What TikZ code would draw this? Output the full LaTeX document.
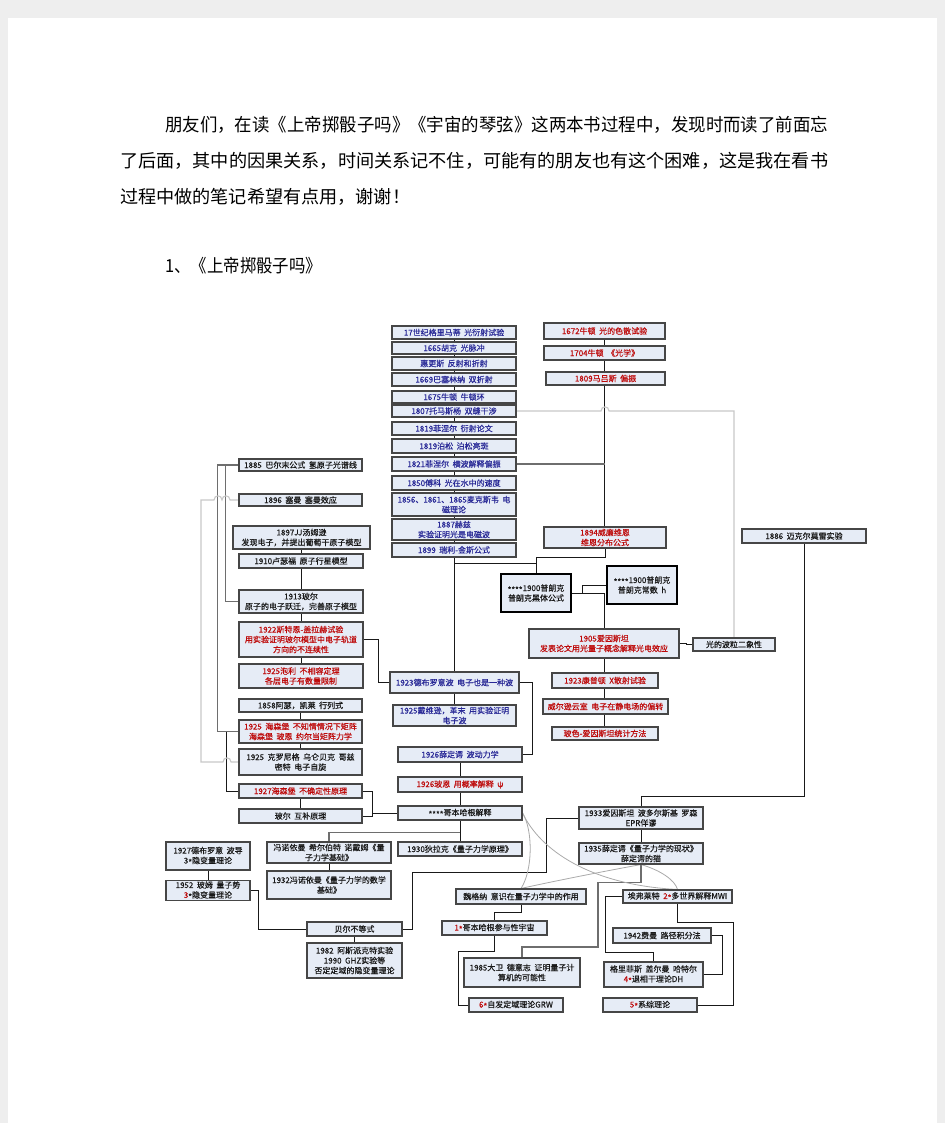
\documentclass[tikz,border=0pt]{standalone}
\usepackage{fontspec}
\setmainfont{Noto Sans CJK SC}
\newfontfamily\boxfont{Noto Sans CJK SC}[FakeBold=0.4]
\usepackage{graphicx}
\definecolor{cblue}{RGB}{40,40,150}
\definecolor{cred}{RGB}{190,10,10}
\definecolor{ctxt}{RGB}{25,25,25}
\definecolor{cfill}{RGB}{230,236,246}
\definecolor{cedge}{RGB}{70,70,70}
\definecolor{clgray}{RGB}{200,200,200}
\definecolor{cmgray}{RGB}{110,110,110}
\definecolor{ccurve}{RGB}{170,170,170}
\definecolor{cbg}{RGB}{238,238,238}
\pgfdeclarelayer{paper}
\pgfdeclarelayer{wires}
\pgfsetlayers{paper,wires,main}
\newcommand\widesp{\spaceskip=3.5pt\relax}
\tikzset{
 bx/.style={draw=cedge, fill=cfill, line width=1.1pt, inner sep=0.5pt, align=center, font=\boxfont\fontsize{8}{10}\selectfont, execute at begin node=\widesp, text=ctxt},
 redt/.style={text=cred},
 bluet/.style={text=cblue},
 heavy/.style={draw=black, line width=1.2pt},
 ln/.style={draw=black!90, line width=0.9pt},
 gln/.style={draw=cmgray, line width=1.1pt},
 lln/.style={draw=clgray, line width=1.1pt},
 curv/.style={draw=ccurve, line width=0.8pt},
 ptxt/.style={anchor=west, inner sep=0pt, font=\fontsize{18}{18}\selectfont, text=black},
}
\newcommand\mybox[7][]{\node[bx,#1,minimum width={#5-#3},minimum height={#6-#4}] (#2) at ({(#3+#5)/2},{(#4+#6)/2}) {#7};}
\newcommand\rd[1]{{\color{cred}#1}}
\newcommand\st{\raisebox{-0.22em}{*}}
\begin{document}
\begin{tikzpicture}[x=1pt,y=-1pt]
\begin{pgfonlayer}{paper}
\fill[cbg] (0,0) rectangle (945,1123);
\fill[white] (8,18) rectangle (937,1123);
\end{pgfonlayer}
\useasboundingbox (0,0) rectangle (945,1123);

% paragraph
\node[ptxt] (t1) at (165,125) {\resizebox{663pt}{\height}{朋友们，在读《上帝掷骰子吗》《宇宙的琴弦》这两本书过程中，发现时而读了前面忘}};
\node[ptxt] (t2) at (120,161) {\resizebox{708pt}{\height}{了后面，其中的因果关系，时间关系记不住，可能有的朋友也有这个困难，这是我在看书}};
\node[ptxt] (t3) at (120,197) {\resizebox{290pt}{\height}{过程中做的笔记希望有点用，谢谢！}};
\node[ptxt] (t4) at (165,266) {\resizebox{157pt}{\height}{1、《上帝掷骰子吗》}};

% central column
\mybox[bluet]{c1}{392}{326}{516}{339}{17世纪格里马蒂 光衍射试验}
\mybox[bluet]{c2}{392}{342}{516}{354}{1665胡克 光脉冲}
\mybox[bluet]{c3}{392}{357}{516}{370}{惠更斯 反射和折射}
\mybox[bluet]{c4}{392}{373}{516}{386}{1669巴塞林纳 双折射}
\mybox[bluet]{c5}{392}{391}{516}{403}{1675牛顿 牛顿环}
\mybox[bluet]{c6}{392}{405}{516}{417}{1807托马斯杨 双缝干涉}
\mybox[bluet]{c7}{392}{422}{516}{435}{1819菲涅尔 衍射论文}
\mybox[bluet]{c8}{392}{439}{516}{453}{1819泊松 泊松亮斑}
\mybox[bluet]{c9}{392}{457}{516}{471}{1821菲涅尔 横波解释偏振}
\mybox[bluet]{c10}{392}{476}{516}{490}{1850傅科 光在水中的速度}
\mybox[bluet]{c11}{392}{493}{516}{516}{1856、1861、1865麦克斯韦 电\\磁理论}
\mybox[bluet]{c12}{392}{519}{516}{540}{1887赫兹\\实验证明光是电磁波}
\mybox[bluet]{c13}{392}{543}{516}{557}{1899 瑞利-金斯公式}

% right column
\mybox[redt]{r1}{544}{323}{665}{339}{1672牛顿 光的色散试验}
\mybox[redt]{r2}{544}{346}{665}{360}{1704牛顿 《光学》}
\mybox[redt]{r3}{546}{372}{665}{385}{1809马吕斯 偏振}
\mybox[redt]{r4}{544}{527}{666}{548}{1894威廉维恩\\维恩分布公式}
\mybox{m}{742}{529}{866}{543}{1886 迈克尔莫雷实验}

\mybox[heavy]{p1}{501}{574}{571}{612}{\st\st\st\st{}1900普朗克\\普朗克黑体公式}
\mybox[heavy]{p2}{607}{566}{677}{604}{\st\st\st\st{}1900普朗克\\普朗克常数 h}
\mybox[redt]{e1}{529}{629}{679}{658}{1905爱因斯坦\\发表论文用光量子概念解释光电效应}
\mybox{w}{693}{638}{775}{651}{光的波粒二象性}
\mybox[redt]{k1}{552}{673}{658}{688}{1923康普顿 X散射试验}
\mybox[redt]{k2}{543}{699}{668}{714}{威尔逊云室 电子在静电场的偏转}
\mybox[redt]{k3}{552}{727}{658}{740}{玻色-爱因斯坦统计方法}

% left column
\mybox{l1}{239}{459}{362}{471}{1885 巴尔末公式 氢原子光谱线}
\mybox{l2}{239}{494}{362}{506}{1896 塞曼 塞曼效应}
\mybox{l3}{233}{526}{370}{549}{1897JJ汤姆逊\\发现电子，并提出葡萄干原子模型}
\mybox{l4}{239}{554}{363}{568}{1910卢瑟福 原子行星模型}
\mybox{l5}{239}{590}{363}{613}{1913玻尔\\原子的电子跃迁，完善原子模型}
\mybox[redt]{l6}{239}{622}{363}{657}{1922斯特恩-盖拉赫试验\\用实验证明玻尔模型中电子轨道\\方向的不连续性}
\mybox[redt]{l7}{239}{664}{363}{688}{1925泡利 不相容定理\\各层电子有数量限制}
\mybox{l8}{239}{699}{362}{712}{1858阿瑟，凯莱 行列式}
\mybox[redt]{l9}{239}{720}{362}{743}{1925 海森堡 不知情情况下矩阵\\海森堡 玻恩 约尔当矩阵力学}
\mybox{l10}{239}{749}{362}{775}{1925 克罗尼格 乌仑贝克 哥兹\\密特 电子自旋}
\mybox[redt]{l11}{239}{784}{362}{798}{1927海森堡 不确定性原理}
\mybox{l12}{239}{809}{362}{823}{玻尔 互补原理}

% center lower
\mybox[bluet]{d1}{390}{672}{519}{693}{1923德布罗意波 电子也是一种波}
\mybox[bluet]{d2}{393}{705}{516}{726}{1925戴维逊，革末 用实验证明\\电子波}
\mybox[bluet]{d3}{398}{747}{522}{762}{1926薛定谔 波动力学}
\mybox[redt]{d4}{398}{777}{522}{792}{1926玻恩 用概率解释 ψ}
\mybox{d5}{398}{806}{522}{820}{\st\st\st\st{}哥本哈根解释}
\mybox{d6}{398}{842}{522}{856}{1930狄拉克《量子力学原理》}

% lower left
\mybox{n1}{267}{842}{391}{863}{冯诺依曼 希尔伯特 诺戴姆《量\\子力学基础》}
\mybox{n2}{267}{871}{391}{899}{1932冯诺依曼《量子力学的数学\\基础》}
\mybox{a1}{166}{842}{250}{870}{1927德布罗意 波导\\3\st{}隐变量理论}
\mybox{a2}{166}{881}{250}{900}{1952 玻姆 量子势\\\rd{3}\st{}隐变量理论}
\mybox{b1}{307}{922}{402}{936}{贝尔不等式}
\mybox{b2}{307}{943}{402}{978}{1982 阿斯派克特实验\\1990 GHZ实验等\\否定定域的隐变量理论}

% lower right
\mybox{q1}{579}{807}{703}{829}{1933爱因斯坦 波多尔斯基 罗森\\EPR佯谬}
\mybox{q2}{579}{843}{703}{864}{1935薛定谔《量子力学的现状》\\薛定谔的猫}
\mybox{g1}{456}{889}{586}{904}{魏格纳 意识在量子力学中的作用}
\mybox{g2}{442}{921}{547}{935}{\rd{1\st}哥本哈根参与性宇宙}
\mybox{g3}{464}{958}{580}{987}{1985大卫 德意志 证明量子计\\算机的可能性}
\mybox{g4}{469}{998}{563}{1012}{\rd{6\st}自发定域理论GRW}
\mybox{h1}{623}{890}{732}{903}{埃弗莱特 \rd{2\st}多世界解释MWI}
\mybox{h2}{613}{928}{711}{943}{1942费曼 路径积分法}
\mybox{h3}{604}{962}{703}{987}{格里菲斯 盖尔曼 哈特尔\\\rd{4\st}退相干理论DH}
\mybox{h4}{603}{998}{697}{1012}{\rd{5\st}系综理论}

\begin{pgfonlayer}{wires}
% central and right columns
\draw[ln] (c1.center) -- (c1.center |- d1.north);
\draw[ln] (r1.center) -- (r1.center |- r4.north);
\draw[lln] (c6.east) -- (601,411) .. controls (601,405.5) and (609,405.5) .. (609,411) -- (734,411) -- (w.north);
\draw[gln] (c9.east) -- (c9.east -| r1.center);
\draw[ln] (r4.south) |- (536,557) -- (p1.north);
\draw[ln] (c13.south) ++(0,6) -| (p1.north);
\draw[ln] (p1.east) -| (e1.north);
\draw[ln] (p1.east) ++(11,0) |- (p2.west);
\draw[ln] (e1.east) -- ++(7,0) |- (w.west);
\draw[ln] (e1.south) -- (e1.south |- k3.north);
% left
\draw[ln] (l3.center) -- (l3.center |- l7.north);
\draw[ln] (l8.center) -- (l8.center |- l10.north);
\draw[ln] (l11.south) -- (l12.north);
\draw[gln] (l1.west) -- ++(-21,0) |- (l9.west);
\draw[gln] (l1.west) ++(-13,0) |- (l5.west);
\draw[ln] (l9.west) ++(-12,0) |- (l11.west);
\draw[lln] (l2.west) -- (230,500) .. controls (230,494.5) and (222,494.5) .. (222,500)
  .. controls (222,494.5) and (214,494.5) .. (214,500) -- (201,500) -- (201,762) -- (223,762)
  .. controls (223,756.5) and (231,756.5) .. (231,762) -- (l10.west);
\draw[ln] (l6.east) -- ++(15,0) |- (d1.west);
\draw[ln] (d1.east) -- ++(13,0) |- (d3.east);
\draw[ln] (d1.south) -- (d2.north);
\draw[ln] (d3.center) -- (d3.center |- d6.north);
\draw[ln] (l11.east) -- ++(10,0) |- (d5.west);
\draw[ln] (l12.east) -| (372,813);
\draw[gln] (d5.south) ++(0,12) -| (n1.north);
\draw[ln] (n1.south) -- (n2.north);
\draw[ln] (a1.south) -- (a2.north);
\draw[ln] (a2.east) -- ++(8,0) |- (b1.west);
\draw[ln] (b1.south) -- (b2.north);
\draw[ln] (b1.east) -- ++(10,0) |- (546,872) |- (q1.west);
% right lower
\draw[ln] (m.south) |- (641,796) -- (q1.north);
\draw[ln] (q1.south) -- (q2.north);
\draw[gln] (q2.south) -- ++(0,18) -| (598,947) -| (g3.north);
\draw[ln] (g1.south) -- ++(0,8) -| (g2.north);
\draw[ln] (g2.south) -- ++(0,16) -| (458,1005) -- (g4.west);
\draw[ln] (h1.west) -- ++(-17,0) |- (653.5,952) -- (h3.north);
\draw[ln] (h2.east) -- ++(11,0) |- (h3.east);
\draw[ln] (h1.south) -- ++(0,19) -| (733,1005) -- (h4.east);
% curves
\draw[curv] (d5.east) .. controls (533,830) and (533,870) .. (g1.north);
\draw[curv] (d5.east) .. controls (540,850) and (590,885) .. (h1.north);
\draw[curv] (q2.south) .. controls (600,872) and (550,882) .. (g1.north);
\draw[curv] (q2.south) .. controls (660,870) and (675,880) .. (h1.north);
\end{pgfonlayer}
\end{tikzpicture}
\end{document}
